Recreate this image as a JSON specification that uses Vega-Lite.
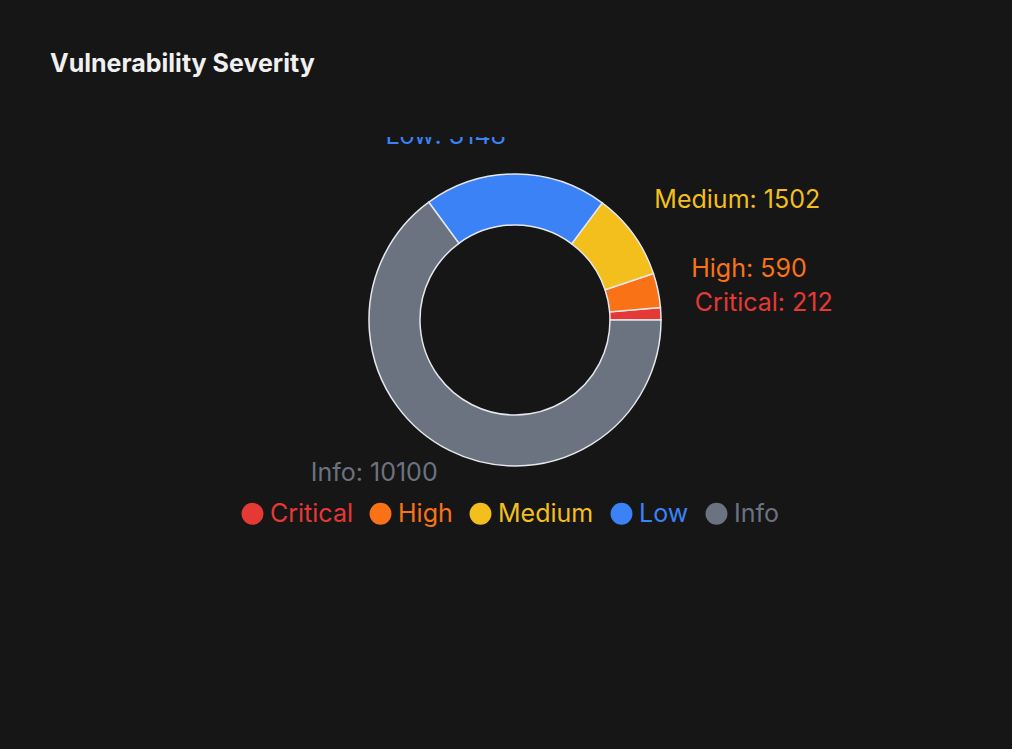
{
  "$schema": "https://vega.github.io/schema/vega-lite/v6.json",
  "width": 930,
  "height": 366,
  "autosize": {"type": "none"},
  "padding": {"left": 50, "top": 137, "right": 32, "bottom": 246},
  "background": "#161616",
  "title": {
    "text": "Vulnerability Severity",
    "anchor": "start",
    "frame": "group",
    "offset": 60,
    "color": "#f0f0f0",
    "font": "Inter",
    "fontSize": 25,
    "fontWeight": 700
  },
  "data": {
    "values": [
      {"severity": "Critical", "count": 212, "rank": 1, "label": "Critical: 212"},
      {"severity": "High", "count": 590, "rank": 2, "label": "High: 590"},
      {"severity": "Medium", "count": 1502, "rank": 3, "label": "Medium: 1502"},
      {"severity": "Low", "count": 3148, "rank": 4, "label": "Low: 3148"},
      {"severity": "Info", "count": 10100, "rank": 5, "label": "Info: 10100"}
    ]
  },
  "encoding": {
    "theta": {"field": "count", "type": "quantitative", "stack": true, "scale": {"range": [1.5708, -4.7124]}},
    "order": {"field": "rank", "type": "quantitative"},
    "color": {
      "field": "severity",
      "type": "nominal",
      "scale": {
        "domain": ["Critical", "High", "Medium", "Low", "Info"],
        "range": ["#e53935", "#f97316", "#f2bf1d", "#3b82f6", "#6b7280"]
      },
      "legend": {
        "orient": "none",
        "legendX": 190,
        "legendY": 364,
        "direction": "horizontal",
        "title": null,
        "symbolType": "circle",
        "symbolSize": 480,
        "symbolStrokeWidth": 0,
        "labelFont": "Inter",
        "labelFontSize": 25,
        "labelOffset": 5,
        "columnPadding": 15,
        "encode": {"labels": {"update": {"fill": {"scale": "color", "field": "value"}}}}
      }
    }
  },
  "layer": [
    {
      "mark": {"type": "arc", "innerRadius": 95, "outerRadius": 146, "stroke": "#e5e7eb", "strokeWidth": 1.5}
    },
    {
      "mark": {
        "type": "text",
        "radius": 182,
        "font": "Inter",
        "fontSize": 25,
        "clip": true,
        "baseline": "middle",
        "align": {"expr": "datum.severity === 'Info' ? 'right' : (datum.severity === 'Low' ? 'center' : 'left')"},
        "dx": {"expr": "datum.severity === 'Low' ? -70 : (datum.severity === 'Info' ? 5 : (datum.severity === 'Medium' ? -8 : -2))"},
        "dy": {"expr": "datum.severity === 'High' ? -14 : (datum.severity === 'Medium' ? -13 : (datum.severity === 'Info' ? -9 : (datum.severity === 'Critical' ? -9 : -2)))"}
      },
      "encoding": {
        "text": {"field": "label", "type": "nominal"}
      }
    }
  ]
}
